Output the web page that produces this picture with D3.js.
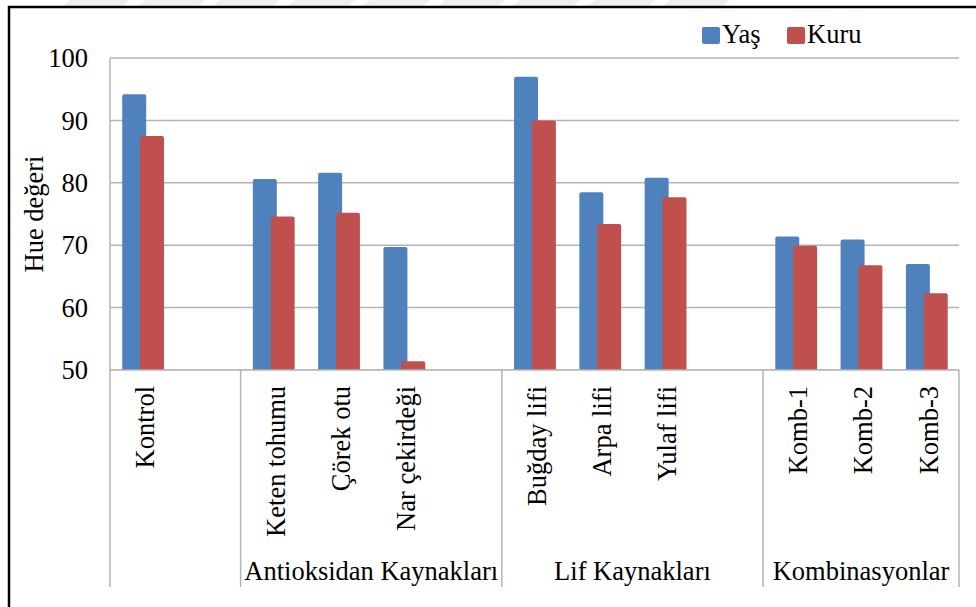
<!DOCTYPE html>
<html>

<head>
    <meta charset="UTF-8">
    <title></title>
    <style>
        body { margin: 0; background: #fff; }
        svg text { fill: #000; }
    </style>
</head>

<body>
<div id="chart"></div>
</body>
<script src="https://cdn.jsdelivr.net/npm/d3@7"></script>
<script>
    // veriler
    var groups = ["", "Antioksidan Kaynakları", "Lif Kaynakları", "Kombinasyonlar"];
    var categories = ["Kontrol", "", "Keten tohumu", "Çörek otu", "Nar çekirdeği", "",
        "Buğday lifi", "Arpa lifi", "Yulaf lifi", "", "Komb-1", "Komb-2", "Komb-3"];
    var categoryGroup = [0, 0, 1, 1, 1, 1, 2, 2, 2, 2, 3, 3, 3];
    var yas = [94.2, null, 80.6, 81.6, 69.7, null, 97.0, 78.5, 80.8, null, 71.4, 70.9, 67.0];
    var kuru = [87.5, null, 74.6, 75.2, 51.4, null, 90.0, 73.4, 77.7, null, 69.9, 66.8, 62.3];
    var seriesNames = ["Yaş", "Kuru"];
    var yTicks = [50, 60, 70, 80, 90, 100];

    var width = 976, height = 607;
    var mLeft = 110, mRight = 959, mTop = 58, mBottom = 370;
    var color = ["#4F81BD", "#C0504D"];
    var fs = 26.5;
    var font = "'Liberation Serif', Tinos, 'Times New Roman', serif";

    var svg = d3.select("#chart").append("svg")
        .attr("width", width).attr("height", height)
        .attr("font-family", font);

    // ustteki soluk desen
    var stripes = d3.range(70, 730, 75);
    svg.append("g").selectAll("path").data(stripes).join("path")
        .attr("d", function (d) { return "M" + d + ",0 L" + (d + 60) + ",0 L" + (d + 52) + ",7 L" + (d - 8) + ",7 Z"; })
        .attr("fill", "#efefef");

    // cerceve
    svg.append("rect").attr("x", 9).attr("y", 7).attr("width", width + 20).attr("height", height + 20)
        .attr("fill", "#fff").attr("stroke", "#000").attr("stroke-width", 2.5);

    var x = d3.scaleBand().domain(d3.range(categories.length)).range([mLeft, mRight]).padding(0);
    var y = d3.scaleLinear().domain([50, 100]).range([mBottom, mTop]);
    var bw = x.bandwidth();

    // grid
    svg.append("g").selectAll("line").data(yTicks).join("line")
        .attr("x1", mLeft).attr("x2", mRight)
        .attr("y1", function (d) { return y(d); }).attr("y2", function (d) { return y(d); })
        .attr("stroke", "#b4b4b4").attr("stroke-width", 1.5);
    svg.append("line").attr("x1", mLeft).attr("x2", mLeft).attr("y1", mTop).attr("y2", mBottom)
        .attr("stroke", "#b4b4b4").attr("stroke-width", 1.5);

    svg.append("g").selectAll("text").data(yTicks).join("text")
        .attr("x", 88).attr("y", function (d) { return y(d); })
        .attr("dy", "0.35em").attr("text-anchor", "end")
        .style("font-size", fs + "px").text(function (d) { return d; });

    svg.append("text").attr("transform", "translate(34," + y(75) + ") rotate(-90)")
        .attr("text-anchor", "middle").attr("dy", "0.35em")
        .style("font-size", fs + "px").text("Hue değeri");

    // bars
    var series = [yas, kuru];
    var offs = [0.187, 0.46];
    series.forEach(function (vals, s) {
        svg.append("g").selectAll("rect")
            .data(vals.map(function (v, i) { return {i: i, v: v}; }).filter(function (d) { return d.v != null; }))
            .join("rect")
            .attr("x", function (d) { return x(d.i) + bw * offs[s]; })
            .attr("width", bw * 0.367)
            .attr("y", function (d) { return y(d.v); })
            .attr("height", function (d) { return y(50) - y(d.v) + 2; })
            .attr("rx", 2)
            .attr("fill", color[s]);
    });

    // kategori ekseni
    svg.append("rect").attr("x", mLeft).attr("y", mBottom).attr("width", mRight - mLeft).attr("height", 20).attr("fill", "#fff");
    svg.append("line").attr("x1", mLeft).attr("x2", mRight).attr("y1", mBottom).attr("y2", mBottom)
        .attr("stroke", "#b4b4b4").attr("stroke-width", 1.5);

    var bounds = [0];
    categoryGroup.forEach(function (g, i) {
        if (i > 0 && g !== categoryGroup[i - 1]) bounds.push(i);
    });
    bounds.push(categories.length);
    svg.append("g").selectAll("line").data(bounds).join("line")
        .attr("x1", function (d) { return d < categories.length ? x(d) : mRight; })
        .attr("x2", function (d) { return d < categories.length ? x(d) : mRight; })
        .attr("y1", mBottom).attr("y2", 587)
        .attr("stroke", "#b4b4b4").attr("stroke-width", 1.5);

    svg.append("g").selectAll("text").data(categories).join("text")
        .attr("transform", function (d, i) { return "translate(" + (x(i) + bw / 2 + 2) + ",386) rotate(-90)"; })
        .attr("text-anchor", "end").attr("dy", "0.35em")
        .style("font-size", fs + "px").text(function (d) { return d; });

    svg.append("g").selectAll("text").data(groups).join("text")
        .attr("x", function (d, g) {
            var idx = d3.range(categories.length).filter(function (i) { return categoryGroup[i] === g; });
            var x0 = x(idx[0]);
            var x1 = idx[idx.length - 1] + 1 < categories.length ? x(idx[idx.length - 1] + 1) : mRight;
            return (x0 + x1) / 2;
        })
        .attr("y", 580).attr("text-anchor", "middle")
        .style("font-size", fs + "px").text(function (d) { return d; });

    // legend
    var lg = svg.append("g");
    var lx = [702, 787];
    seriesNames.forEach(function (n, s) {
        lg.append("rect").attr("x", lx[s]).attr("y", 27).attr("width", 18).attr("height", 17)
            .attr("rx", 2).attr("fill", color[s]);
        lg.append("text").attr("x", lx[s] + 20).attr("y", 43)
            .style("font-size", fs + "px").text(n);
    });
</script>
</html>
